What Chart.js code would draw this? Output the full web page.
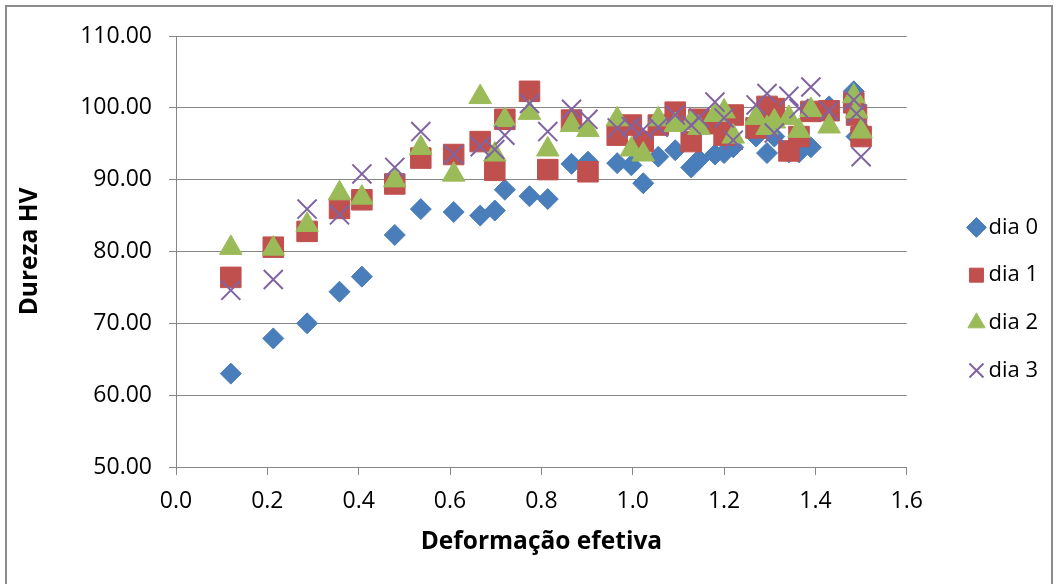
<!DOCTYPE html>
<html>
<head>
<meta charset="utf-8">
<script src="https://cdn.jsdelivr.net/npm/chart.js@4/dist/chart.umd.min.js"></script>
<style>
  html, body { margin: 0; padding: 0; background: #ffffff; }
  #wrap { width: 1059px; height: 584px; position: relative; }
</style>
</head>
<body>
<div id="wrap"><canvas id="c" width="1059" height="584"></canvas></div>
<script>
// Deformação efetiva of each specimen (shared by every series)
const deformacao = [0.12, 0.213, 0.287, 0.358, 0.407, 0.479, 0.536, 0.608, 0.666, 0.698,
  0.72, 0.774, 0.814, 0.866, 0.902, 0.966, 0.997, 1.023, 1.056, 1.093,
  1.128, 1.145, 1.18, 1.20, 1.22, 1.27, 1.294, 1.31, 1.342, 1.364,
  1.39, 1.43, 1.484, 1.49, 1.50];

// Dureza HV measured after 0, 1, 2 and 3 days
const dia0 = [63.0, 67.9, 70.0, 74.4, 76.5, 82.3, 85.9, 85.5, 85.0, 85.7,
  88.6, 87.7, 87.3, 92.2, 92.5, 92.3, 92.0, 89.5, 93.2, 94.1,
  91.7, 92.8, 93.5, 93.7, 94.5, 96.0, 93.7, 96.0, 93.8, 93.8,
  94.5, 100.2, 102.3, 96.0, 97.0];
const dia1 = [76.4, 80.6, 82.8, 86.0, 87.2, 89.4, 93.0, 93.5, 95.3, 91.3,
  98.4, 102.3, 91.4, 98.3, 91.1, 96.2, 97.6, 95.3, 97.6, 99.4,
  95.3, 98.4, 97.8, 96.2, 99.0, 97.2, 100.2, 99.9, 94.0, 96.0,
  99.5, 99.6, 100.7, 99.0, 96.0];
const dia2 = [80.5, 80.4, 83.7, 88.1, 87.5, 89.9, 94.4, 90.7, 101.5, 93.5,
  98.3, 99.3, 94.2, 97.6, 96.9, 98.4, 94.2, 93.5, 98.4, 97.6,
  98.0, 97.2, 99.0, 99.5, 96.0, 98.6, 97.2, 98.1, 98.6, 96.8,
  99.7, 97.4, 101.6, 99.5, 96.7];
const dia3 = [74.6, 76.1, 85.9, 85.1, 90.8, 91.7, 96.7, 93.5, 94.6, 94.2,
  96.2, 100.6, 96.7, 99.8, 98.4, 97.2, 97.4, 97.0, 97.3, 99.0,
  97.6, 98.6, 100.8, 98.6, 95.5, 100.4, 102.0, 96.5, 101.6, 99.9,
  102.9, 99.6, 101.1, 99.2, 93.2];

const seriesNames = ['dia 0', 'dia 1', 'dia 2', 'dia 3'];

// Axis ranges and tick spacing
const xMin = 0, xMax = 1.6, xStep = 0.2;
const yMin = 50, yMax = 110, yStep = 10;

const FONT = "'Open Sans', 'Liberation Sans', sans-serif";
const GRID = '#868686';

function points(ys) {
  return deformacao.map((x, i) => ({ x: x, y: ys[i] }));
}

// White background plus the thin grey frame around the whole chart
const framePlugin = {
  id: 'frame',
  beforeDraw(chart) {
    const ctx = chart.ctx;
    ctx.save();
    ctx.fillStyle = '#ffffff';
    ctx.fillRect(0, 0, chart.width, chart.height);
    ctx.strokeStyle = '#8c8c8c';
    ctx.lineWidth = 2;
    ctx.strokeRect(6, 6, chart.width - 13, chart.height + 20);
    ctx.restore();
  }
};

// Move the legend column closer to the right edge
const legendShift = {
  id: 'legendShift',
  afterLayout(chart) {
    const lg = chart.legend;
    if (!lg) return;
    const dx = 43, dy = -1;
    lg.left += dx; lg.right += dx;
    lg.top += dy; lg.bottom += dy;
  }
};

new Chart(document.getElementById('c'), {
  type: 'scatter',
  data: {
    datasets: [
      {
        label: seriesNames[0], data: points(dia0), order: 4,
        pointStyle: 'rectRot', pointRadius: 10.5, pointHoverRadius: 10.5,
        backgroundColor: '#4A7EBB', borderColor: '#4A7EBB', borderWidth: 1
      },
      {
        label: seriesNames[1], data: points(dia1), order: 3,
        pointStyle: 'rect', pointRadius: 14.5, pointHoverRadius: 14.5,
        backgroundColor: '#C0504D', borderColor: '#C0504D', borderWidth: 1
      },
      {
        label: seriesNames[2], data: points(dia2), order: 2,
        pointStyle: 'triangle', pointRadius: 13, pointHoverRadius: 13,
        backgroundColor: '#9BBB59', borderColor: '#9BBB59', borderWidth: 1
      },
      {
        label: seriesNames[3], data: points(dia3), order: 1,
        pointStyle: 'crossRot', pointRadius: 13.5, pointHoverRadius: 13.5,
        backgroundColor: '#8064A2', borderColor: '#8064A2', borderWidth: 2
      }
    ]
  },
  options: {
    responsive: false,
    animation: false,
    devicePixelRatio: 1,
    layout: { padding: { left: 8, right: 54, top: 36, bottom: 20 } },
    plugins: {
      tooltip: { enabled: false },
      legend: {
        position: 'right',
        labels: {
          usePointStyle: true,
          boxWidth: 2,
          boxHeight: 14,
          padding: 25.7,
          color: '#000000',
          font: { family: FONT, size: 22 },
          sort: (a, b) => a.datasetIndex - b.datasetIndex
        }
      }
    },
    scales: {
      x: {
        type: 'linear',
        min: xMin, max: xMax,
        afterFit: (s) => { s.height = 97; },
        ticks: {
          stepSize: xStep,
          padding: 13,
          color: '#000000',
          font: { family: FONT, size: 23 },
          callback: (v) => Number(v).toFixed(1)
        },
        grid: { drawOnChartArea: false, drawTicks: true, tickLength: 8, color: GRID, lineWidth: 1 },
        border: { color: GRID, width: 1 },
        title: {
          display: true, text: 'Deformação efetiva', color: '#000000',
          font: { family: FONT, size: 24.5, weight: 'bold' },
          padding: { top: 6, bottom: 7 }
        }
      },
      y: {
        type: 'linear',
        min: yMin, max: yMax,
        afterFit: (s) => { s.width = 168; },
        ticks: {
          stepSize: yStep,
          padding: 17,
          color: '#000000',
          font: { family: FONT, size: 23 },
          callback: (v) => Number(v).toFixed(2)
        },
        grid: { drawTicks: true, tickLength: 7, color: GRID, lineWidth: 1 },
        border: { color: GRID, width: 1 },
        title: {
          display: true, text: 'Dureza HV', color: '#000000',
          font: { family: FONT, size: 24.5, weight: 'bold' },
          padding: { top: 7, bottom: 10 }
        }
      }
    }
  },
  plugins: [framePlugin, legendShift]
});
</script>
</body>
</html>
